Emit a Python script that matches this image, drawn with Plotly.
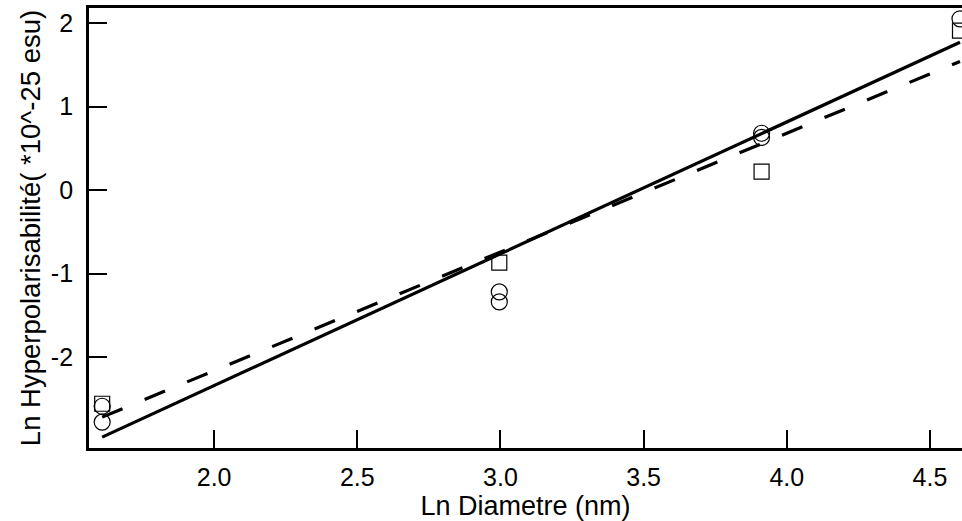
import plotly.graph_objects as go

# Data
circle_x = [1.609, 1.609, 2.996, 2.996, 3.912, 3.912, 4.605]
circle_y = [-2.59, -2.78, -1.22, -1.34, 0.68, 0.63, 2.05]
square_x = [1.609, 2.996, 3.912, 4.605]
square_y = [-2.56, -0.87, 0.22, 1.91]
fit_solid_x = [1.609, 4.605]
fit_solid_y = [-2.96, 1.77]
fit_dash_x = [1.609, 4.605]
fit_dash_y = [-2.72, 1.54]

x_ticks = [2.0, 2.5, 3.0, 3.5, 4.0, 4.5]
y_ticks = [-2, -1, 0, 1, 2]

fig = go.Figure()
fig.add_trace(go.Scatter(x=fit_solid_x, y=fit_solid_y, mode="lines",
                         line=dict(color="black", width=3.2), showlegend=False))
fig.add_trace(go.Scatter(x=fit_dash_x, y=fit_dash_y, mode="lines",
                         line=dict(color="black", width=3.2, dash="22px,24px"), showlegend=False))
fig.add_trace(go.Scatter(x=circle_x, y=circle_y, mode="markers",
                         marker=dict(symbol="circle-open", size=16, color="black",
                                     line=dict(width=1.2, color="black")), showlegend=False))
fig.add_trace(go.Scatter(x=square_x, y=square_y, mode="markers",
                         marker=dict(symbol="square-open", size=15, color="black",
                                     line=dict(width=1.2, color="black")), showlegend=False))

tick_font = dict(family="Liberation Sans, Arial, sans-serif", size=25, color="black")
xtitle_font = dict(family="Liberation Sans, Arial, sans-serif", size=27, color="black")
ytitle_font = dict(family="Liberation Sans, Arial, sans-serif", size=27.5, color="black")
fig.update_layout(
    width=962, height=521,
    margin=dict(l=89, r=0, t=8, b=73),
    paper_bgcolor="white", plot_bgcolor="white",
    font=tick_font,
    xaxis=dict(range=[1.563, 4.612], tickvals=x_ticks, ticktext=[f"{v:.1f}" for v in x_ticks],
               ticks="inside", ticklen=18, tickwidth=2.2, tickcolor="black",
               showline=True, linewidth=2.8, linecolor="black", mirror=True,
               showgrid=False, zeroline=False, ticklabelstandoff=5,
               title=dict(text="Ln Diametre (nm)", standoff=0, font=xtitle_font),
               tickfont=tick_font),
    yaxis=dict(range=[-3.09, 2.18], tickvals=y_ticks, ticktext=[str(v) for v in y_ticks],
               ticks="inside", ticklen=18, tickwidth=2.2, tickcolor="black",
               showline=True, linewidth=2.8, linecolor="black",
               showgrid=False, zeroline=False, ticklabelstandoff=8,
               title=dict(text="Ln Hyperpolarisabilité( *10^-25 esu)", standoff=3, font=ytitle_font),
               tickfont=tick_font),
)
fig.write_html("out.html")
